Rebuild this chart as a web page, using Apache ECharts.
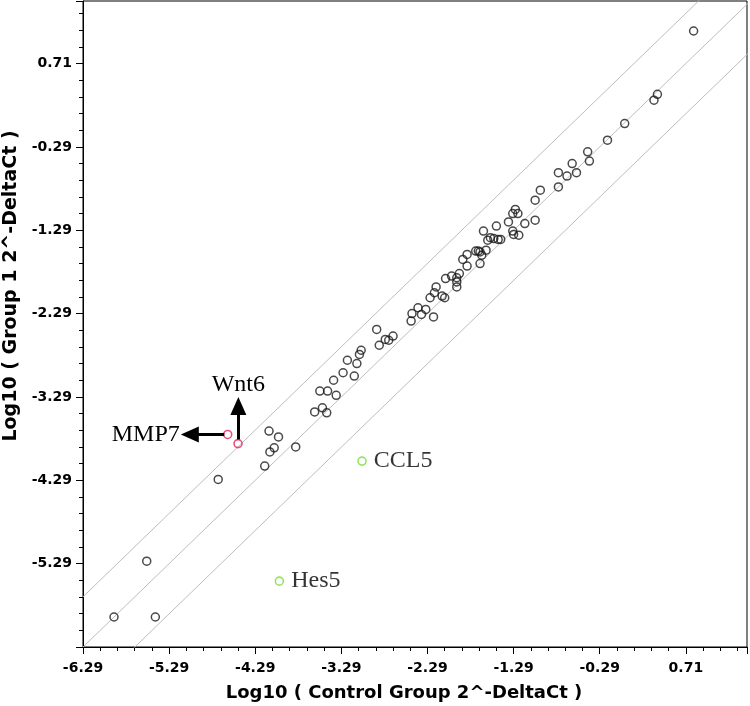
<!DOCTYPE html>
<html><head><meta charset="utf-8">
<script src="https://cdn.jsdelivr.net/npm/echarts@6/dist/echarts.min.js"></script>
<style>html,body{margin:0;padding:0;background:#fff}#c{width:750px;height:706px}</style>
</head><body><div id="c"></div>
<script>
// Log10 (Control Group 2^-DeltaCt) for ordinary genes
const controlLog = [0.80,0.38,0.34,0.00,-0.20,-0.43,-0.41,-0.61,-0.56,-0.67,-0.77,-0.77,-0.98,-1.04,
  -1.27,-1.30,-1.24,-1.35,-1.16,-1.04,-1.30,-1.29,-1.23,-1.44,-1.49,-1.64,-1.59,-1.56,-1.52,-1.47,
  -1.73,-1.70,-1.68,-1.61,-1.66,-1.68,-1.83,-1.88,-1.83,-1.92,-1.95,-1.95,-1.95,-2.01,-2.08,-2.19,
  -2.21,-2.26,-2.12,-2.09,-2.31,-2.40,-2.47,-2.36,-2.22,-2.48,-2.88,-2.85,-2.78,-2.74,-2.69,-3.06,
  -3.08,-3.11,-3.22,-3.27,-3.14,-3.38,-3.54,-3.45,-3.35,-3.60,-3.51,-3.46,-4.13,-4.02,-4.07,-4.12,
  -3.82,-4.18,-4.72,-5.93,-5.55,-5.45];
// Log10 (Group 1 2^-DeltaCt) for ordinary genes
const group1Log = [1.10,0.34,0.27,-0.01,-0.21,-0.35,-0.46,-0.49,-0.60,-0.64,-0.60,-0.77,-0.81,-0.93,
  -1.04,-1.09,-1.09,-1.19,-1.21,-1.17,-1.30,-1.34,-1.35,-1.40,-1.24,-1.30,-1.41,-1.38,-1.39,-1.40,
  -1.54,-1.54,-1.55,-1.53,-1.59,-1.69,-1.58,-1.64,-1.72,-1.81,-1.86,-1.91,-1.97,-1.84,-1.87,-1.97,
  -2.04,-2.10,-2.08,-2.10,-2.24,-2.22,-2.29,-2.30,-2.33,-2.38,-2.48,-2.67,-2.60,-2.61,-2.56,-2.73,
  -2.78,-2.89,-2.85,-3.00,-3.04,-3.09,-3.22,-3.22,-3.27,-3.47,-3.42,-3.48,-3.70,-3.77,-3.90,-3.95,
  -3.89,-4.12,-4.28,-5.93,-5.26,-5.93];

// Highlighted (red) genes
const redGenes = ['MMP7', 'Wnt6'];
const redControl = [-4.61, -4.49];
const redGroup1 = [-3.74, -3.85];

// Highlighted (green) genes
const greenGenes = ['CCL5', 'Hes5'];
const greenControl = [-3.05, -4.01];
const greenGroup1 = [-4.06, -5.50];

// Arrow annotations for red genes (data coordinates)
const arrowStartX = [-4.65, -4.486];
const arrowStartY = [-3.74, -3.80];
const arrowEndX = [-5.05, -4.486];
const arrowEndY = [-3.74, -3.40];

// Axis ranges and tick labels
const xMin = -6.29, xMax = 1.42, yMin = -6.29, yMax = 1.46;
const tickStep = 1;
// Fold-change boundary lines: y = x, y = x ± log10(4)
const foldOffsets = [0, Math.log10(4), -Math.log10(4)];

const chart = echarts.init(document.getElementById('c'), null, {renderer: 'canvas'});

const tickFont = {fontFamily: 'DejaVu Sans', fontWeight: 'bold', fontSize: 14, color: '#000'};
const nameFont = {fontFamily: 'DejaVu Sans', fontWeight: 'bold', fontSize: 18, color: '#000'};
const geneFont = {fontFamily: 'Liberation Serif', fontSize: 24, color: '#000'};

const lineSeries = foldOffsets.map(off => ({
  type: 'line',
  data: [[xMin, xMin + off], [Math.max(xMax, yMax), Math.max(xMax, yMax) + off]],
  showSymbol: false, symbol: 'none', silent: true, clip: true, z: 1,
  lineStyle: {color: '#bdbdbd', width: 1}
}));

const option = {
  animation: false,
  backgroundColor: '#fff',
  grid: {left: 83, right: 3, top: 1, bottom: 59, containLabel: false, outerBoundsMode: 'none',
         show: true, borderColor: '#000', borderWidth: 1, backgroundColor: 'transparent'},
  xAxis: {
    type: 'value', min: xMin, max: xMax, interval: tickStep,
    axisLine: {show: true, onZero: false, lineStyle: {color: '#000', width: 1}},
    axisTick: {show: true, length: 7, lineStyle: {color: '#000'}},
    minorTick: {show: true, splitNumber: 5, length: 4, lineStyle: {color: '#000'}},
    splitLine: {show: false},
    axisLabel: Object.assign({margin: 14, showMaxLabel: false, formatter: v => v.toFixed(2)}, tickFont),
    name: 'Log10 ( Control Group 2^-DeltaCt )', nameLocation: 'middle', nameGap: 37,
    nameTextStyle: Object.assign({padding: [0, 22, 0, 0]}, nameFont)
  },
  yAxis: {
    type: 'value', min: yMin, max: yMax, interval: tickStep,
    axisLine: {show: true, onZero: false, lineStyle: {color: '#000', width: 1}},
    axisTick: {show: true, length: 7, lineStyle: {color: '#000'}},
    minorTick: {show: true, splitNumber: 5, length: 4, lineStyle: {color: '#000'}},
    splitLine: {show: false},
    axisLabel: Object.assign({margin: 11, showMaxLabel: false, showMinLabel: false, formatter: v => v.toFixed(2)}, tickFont),
    name: 'Log10 ( Group 1 2^-DeltaCt )', nameLocation: 'middle', nameGap: 58,
    nameTextStyle: Object.assign({padding: [0, 0, 0, 76]}, nameFont, {fontSize: 19})
  },
  series: lineSeries.concat([
    {
      type: 'scatter', z: 3,
      data: controlLog.map((x, i) => [x, group1Log[i]]),
      symbol: 'circle', symbolSize: 8,
      itemStyle: {color: 'rgba(0,0,0,0)', borderColor: '#1c1c1c', borderWidth: 1.5}
    },
    {
      type: 'scatter', z: 4,
      data: redGenes.map((g, i) => ({name: g, value: [redControl[i], redGroup1[i]]})),
      symbol: 'circle', symbolSize: 8,
      itemStyle: {color: 'rgba(0,0,0,0)', borderColor: '#e0245e', borderWidth: 1.6},
      markLine: {
        silent: true, animation: false,
        symbol: ['none', 'triangle'], symbolSize: [16, 18],
        lineStyle: {color: '#000', width: 3, type: 'solid'},
        data: redGenes.map((g, i) => [
          {coord: [arrowStartX[i], arrowStartY[i]]},
          {coord: [arrowEndX[i], arrowEndY[i]],
           label: Object.assign({show: true, position: 'end', distance: i === 0 ? 10 : 9, formatter: g}, geneFont)}
        ])
      }
    },
    {
      type: 'scatter', z: 4,
      data: greenGenes.map((g, i) => ({name: g, value: [greenControl[i], greenGroup1[i]]})),
      symbol: 'circle', symbolSize: 8,
      itemStyle: {color: 'rgba(0,0,0,0)', borderColor: '#7bdc3c', borderWidth: 1.6},
      label: Object.assign({show: true, position: 'right', distance: 7, formatter: p => p.name}, geneFont)
    }
  ])
};
chart.setOption(option);
</script>
</body></html>
